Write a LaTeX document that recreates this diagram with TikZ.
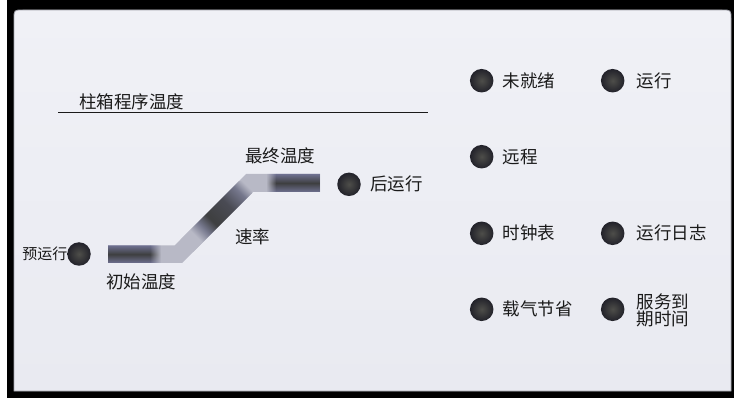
\documentclass[tikz,border=0pt]{standalone}
\usepackage{fontspec}
\setmainfont{Noto Sans CJK SC}
\usetikzlibrary{fadings}
\definecolor{panel}{HTML}{F0F1F6}
\definecolor{panelb}{HTML}{E9EAF1}
\definecolor{paneledge}{HTML}{A4A5AE}
\definecolor{barlight}{HTML}{B8B9C6}
\definecolor{barmid}{HTML}{75778C}
\definecolor{bardark}{HTML}{3E3F40}
\definecolor{bardk}{HTML}{4A4B54}
\definecolor{baredge}{HTML}{6E7090}
\definecolor{ledin}{HTML}{4E4E4A}
\definecolor{ledout}{HTML}{22222A}
\definecolor{ink}{HTML}{1A1A1A}
\tikzfading[name=fadeR, left color=transparent!0, right color=transparent!100]
\tikzfading[name=fadeL, left color=transparent!100, right color=transparent!0]
\pgfdeclarehorizontalshading{rampshade}{100bp}{color(0bp)=(barlight); color(30bp)=(barlight); color(38bp)=(barmid); color(46bp)=(bardark); color(62bp)=(bardk); color(74bp)=(barmid); color(81bp)=(barlight); color(100bp)=(barlight)}
\begin{document}
\begin{tikzpicture}[x=1pt,y=-1pt,
  lbl/.style={font=\fontsize{17.5}{20}\selectfont, text=ink, inner sep=0pt, anchor=west},
  ctr/.style={font=\fontsize{17.5}{20}\selectfont, text=ink, inner sep=0pt},
  led/.style={circle, minimum size=23.5pt, inner sep=0pt, shading=radial, inner color=ledin, outer color=ledout},
  darkbar/.style={top color=baredge, bottom color=baredge, middle color=bardark}]
\useasboundingbox (0,0) rectangle (734,398);
\fill[white] (0,0) rectangle (734,398);
\fill[black] (7,0) rectangle (734,398);
% panel
\shade[top color=panel, bottom color=panelb, draw=paneledge, line width=0.8pt]
  (14,391) -- (14,19) .. controls (14,10) .. (23,10) -- (722,10)
  .. controls (731,10) .. (731,19) -- (731,391) -- cycle;
% title and rule
\node[lbl] (title) at (79,101.5) {柱箱程序温度};
\coordinate (ruleL) at (58,112.3);
\coordinate (ruleR) at (428,112.3);
\draw[line width=1.4pt, ink] (ruleL) -- (ruleR);
% temperature profile
\begin{scope}
  \clip (108,245.5) -- (174.5,245.5) -- (246,174) -- (320,174) -- (320,192)
        -- (253,192) -- (182,263) -- (108,263) -- cycle;
  \fill[barlight] (100,165) rectangle (330,270);
  \shade[shading=rampshade, shading angle=45] (180.6,181.1) rectangle (251.4,251.9);
  \shade[darkbar] (108,245.5) rectangle (150,263);
  \shade[darkbar, path fading=fadeR] (150,245.5) rectangle (161,263);
  \shade[darkbar] (276,174) rectangle (320,192);
  \shade[darkbar, path fading=fadeL] (266,174) rectangle (276,192);
\end{scope}
\node[ctr] (final) at (280,156) {最终温度};
\node[ctr] (rate) at (252.5,237) {速率};
\node[ctr] (init) at (141,282) {初始温度};
% pre-run / post-run
\node[led] (ledpre) at (79,254) {};
\node[font=\fontsize{15}{18}\selectfont, text=ink, inner sep=0pt, anchor=east] (txtpre) at (67.5,253.5) {预运行};
\node[led] (ledpost) at (349,184.3) {};
\node[lbl] (txtpost) at (370,184.3) {后运行};
% status LEDs
\node[led] (led1) at (481.7,80.7) {};
\node[lbl] (t1) at (502.3,80.7) {未就绪};
\node[led] (led2) at (612.7,80.7) {};
\node[lbl] (t2) at (636.3,80.7) {运行};
\node[led] (led3) at (481.7,156.7) {};
\node[lbl] (t3) at (502.3,156.7) {远程};
\node[led] (led4) at (481.7,233.3) {};
\node[lbl] (t4) at (502.3,233.3) {时钟表};
\node[led] (led5) at (612.7,233.3) {};
\node[lbl] (t5) at (636.3,233.3) {运行日志};
\node[led] (led6) at (481.7,309.3) {};
\node[lbl] (t6) at (502.3,309.3) {载气节省};
\node[led] (led7) at (612.7,309.3) {};
\node[lbl, font=\fontsize{17.5}{17.6}\selectfont, align=left] (t7) at (636.3,310.5) {服务到\\期时间};
\end{tikzpicture}
\end{document}
